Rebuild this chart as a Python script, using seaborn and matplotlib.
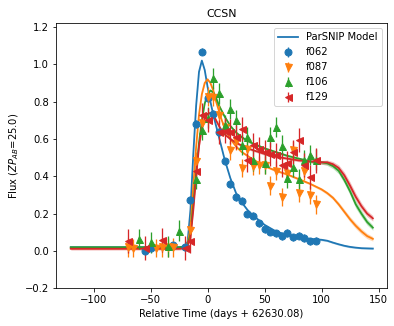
import numpy as np
import pandas as pd
import matplotlib
matplotlib.use("Agg")
import matplotlib.pyplot as plt
import seaborn as sns

# ---------------- data ----------------
bands = ["f062", "f087", "f106", "f129"]
colors = ["C0", "C1", "C2", "C3"]
markers = ["o", "v", "^", "<"]

# model grid (days) and model fluxes
t_model = [-120, -25, -20, -17.5, -15, -12.5, -10, -7.5, -5, -2.5, 0, 2.5, 5, 7.5,
           10, 12.5, 15, 20, 25, 30, 35, 40, 50, 60, 70, 80, 90, 100, 105, 110,
           115, 120, 125, 130, 135, 140, 145]
model_f062 = [0.02, 0.02, 0.025, 0.05, 0.22, 0.52, 0.78, 0.96, 1.02, 0.97, 0.88, 0.80,
              0.73, 0.67, 0.61, 0.55, 0.49, 0.39, 0.31, 0.26, 0.22, 0.19, 0.14, 0.105,
              0.085, 0.072, 0.065, 0.06, 0.055, 0.045, 0.036, 0.028, 0.022, 0.018,
              0.015, 0.014, 0.013]
model_f087 = [0.015, 0.015, 0.02, 0.04, 0.12, 0.35, 0.56, 0.73, 0.84, 0.90, 0.92, 0.90,
              0.86, 0.80, 0.75, 0.70, 0.66, 0.60, 0.56, 0.53, 0.51, 0.49, 0.455, 0.43,
              0.41, 0.385, 0.36, 0.33, 0.31, 0.285, 0.25, 0.21, 0.17, 0.135, 0.105,
              0.08, 0.065]
model_f106 = [0.02, 0.02, 0.022, 0.035, 0.09, 0.25, 0.42, 0.58, 0.70, 0.79, 0.84, 0.86,
              0.85, 0.82, 0.78, 0.75, 0.72, 0.67, 0.635, 0.61, 0.59, 0.575, 0.55, 0.53,
              0.51, 0.495, 0.48, 0.475, 0.47, 0.455, 0.43, 0.38, 0.32, 0.25, 0.20,
              0.155, 0.125]
model_f129 = [0.012, 0.012, 0.015, 0.03, 0.07, 0.22, 0.40, 0.56, 0.66, 0.71, 0.735, 0.74,
              0.73, 0.70, 0.67, 0.645, 0.625, 0.60, 0.58, 0.565, 0.55, 0.54, 0.52, 0.505,
              0.495, 0.485, 0.48, 0.475, 0.475, 0.465, 0.445, 0.405, 0.35, 0.29, 0.24,
              0.20, 0.175]
# model uncertainty half-widths
band_f062 = [0.004] * 27 + [0.005, 0.005, 0.005, 0.005, 0.005, 0.005, 0.004, 0.004, 0.004, 0.004]
band_f087 = [0.006] * 27 + [0.008, 0.009, 0.01, 0.012, 0.013, 0.014, 0.015, 0.015, 0.014, 0.012]
band_f106 = [0.007] * 27 + [0.01, 0.012, 0.014, 0.016, 0.018, 0.02, 0.02, 0.018, 0.016, 0.014]
band_f129 = [0.007] * 27 + [0.01, 0.012, 0.014, 0.016, 0.018, 0.02, 0.02, 0.018, 0.016, 0.015]

# observations
t_f062 = [-55, -50, -30, -20, -15, -10, -5, 0, 5, 10, 15, 20, 25, 30, 35, 40, 45,
          50, 55, 60, 65, 70, 75, 80, 85, 90, 95]
y_f062 = [0.0, 0.016, 0.03, 0.02, 0.274, 0.68, 1.068, 0.82, 0.735, 0.64, 0.48, 0.36,
          0.29, 0.27, 0.2, 0.19, 0.148, 0.118, 0.104, 0.095, 0.079, 0.097, 0.073,
          0.082, 0.07, 0.052, 0.055]
e_f062 = [0.02] * 27

t_f087 = [-70, -65, -45, -40, -35, -30, -15, -10, -5, 0, 5, 10, 15, 20, 25, 30, 35,
          40, 45, 50, 55, 60, 65, 70, 75, 80, 85, 90, 95]
y_f087 = [0.02, 0.016, 0.016, 0.02, 0.02, 0.02, 0.11, 0.48, 0.686, 0.826, 0.826, 0.73,
          0.665, 0.54, 0.59, 0.444, 0.545, 0.455, 0.46, 0.46, 0.35, 0.43, 0.29, 0.42,
          0.54, 0.31, 0.43, 0.30, 0.25]
e_f087 = [0.05] * 29

t_f106 = [-60, -50, -35, -25, -10, -5, 0, 5, 10, 15, 20, 25, 30, 35, 40, 50, 55,
          60, 65, 70, 75, 80, 85, 90, 95]
y_f106 = [0.065, 0.046, 0.025, 0.109, 0.385, 0.647, 0.715, 0.925, 0.845, 0.675, 0.76,
          0.70, 0.57, 0.61, 0.485, 0.47, 0.61, 0.665, 0.565, 0.39, 0.45, 0.385, 0.485,
          0.515, 0.49]
e_f106 = [0.055] * 25

t_f129 = [-70, -55, -40, -20, -15, -10, -5, 0, 10, 15, 20, 25, 30, 35, 40, 45, 50,
          55, 60, 65, 70, 75, 80, 85, 90, 95]
y_f129 = [0.052, 0.015, 0.058, 0.016, 0.052, 0.43, 0.73, 0.70, 0.638, 0.645, 0.64,
          0.61, 0.655, 0.49, 0.566, 0.545, 0.53, 0.52, 0.513, 0.459, 0.47, 0.53, 0.593,
          0.46, 0.396, 0.485]
e_f129 = [0.065] * 26

models = [model_f062, model_f087, model_f106, model_f129]
widths = [band_f062, band_f087, band_f106, band_f129]
obs_t = [t_f062, t_f087, t_f106, t_f129]
obs_y = [y_f062, y_f087, y_f106, y_f129]
obs_e = [e_f062, e_f087, e_f106, e_f129]

# ---------------- plot ----------------
fig = plt.figure(figsize=(394 / 72, 326 / 72), dpi=72)
ax = fig.add_axes([0.142, 0.1156, 0.839, 0.813])

for i, band in enumerate(bands):
    df = pd.DataFrame({"t": t_model, "f": models[i], "w": widths[i]})
    ax.fill_between(df["t"], df["f"] - df["w"], df["f"] + df["w"],
                    color=colors[i], alpha=0.3, lw=0)
    sns.lineplot(data=df, x="t", y="f", ax=ax, color=colors[i], lw=1.8,
                 label="ParSNIP Model" if i == 0 else None, legend=False)

for i, band in enumerate(bands):
    ax.errorbar(obs_t[i], obs_y[i], yerr=obs_e[i], fmt=markers[i], color=colors[i],
                ms=7, elinewidth=1.3, label=band)

ax.set_ylim(-0.2, 1.22)
ax.set_xlim(-133, 157)
ax.set_xticks([-100, -50, 0, 50, 100, 150])
ax.set_yticks([-0.2, 0.0, 0.2, 0.4, 0.6, 0.8, 1.0, 1.2])
ax.set_xlabel("Relative Time (days + 62630.08)", fontsize=10)
ax.set_ylabel(r"Flux ($ZP_{AB}$=25.0)", fontsize=10)
ax.set_title("CCSN", fontsize=11)
ax.tick_params(labelsize=10)
ax.legend(loc="upper right", fontsize=10)

fig.savefig("out.png", dpi=72)
